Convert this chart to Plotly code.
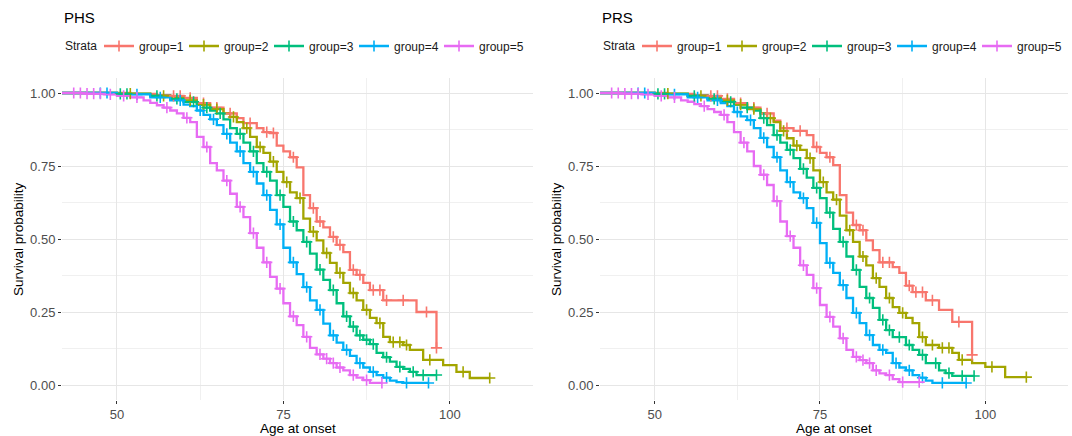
import plotly.graph_objects as go

W, H = 1072, 436
FONT = "Liberation Sans, Arial, Helvetica, sans-serif"
COLORS = ["#F8766D", "#A3A500", "#00BF7D", "#00B0F6", "#E76BF3"]
GROUP_NAMES = ["group=1", "group=2", "group=3", "group=4", "group=5"]
PANEL_TITLES = ["PHS", "PRS"]
X_TITLE = "Age at onset"
Y_TITLE = "Survival probability"
LEGEND_TITLE = "Strata"
X_TICKS = [50, 75, 100]
Y_TICKS = [0.0, 0.25, 0.5, 0.75, 1.0]
Y_TICK_LABELS = ["0.00", "0.25", "0.50", "0.75", "1.00"]

# ---------------- PHS ----------------
phs_g1_age = [40, 52, 56, 58, 60, 62, 64, 66, 68, 69, 71, 72, 73, 74, 75, 76, 77, 78, 79, 80, 81, 82, 83, 84, 85, 86, 87, 88, 90, 95, 98]
phs_g1_surv = [1.0, 0.997, 0.993, 0.99, 0.983, 0.965, 0.95, 0.93, 0.914, 0.897, 0.88, 0.866, 0.863, 0.82, 0.80, 0.78, 0.745, 0.65, 0.606, 0.56, 0.54, 0.507, 0.48, 0.455, 0.394, 0.377, 0.35, 0.325, 0.29, 0.25, 0.127]
phs_g1_cens = [58.5, 59.5, 61, 63, 65, 67, 70, 72.5, 73.5, 76.5, 79.5, 80.5, 82.5, 83.5, 85.5, 86.5, 88.5, 89.5, 90.5, 93, 96.5, 98]

phs_g2_age = [40, 50, 55, 58, 60, 62, 64, 66, 67, 68, 69, 70, 71, 72, 73, 74, 75, 76, 77, 78, 79, 80, 81, 82, 83, 84, 85, 86, 87, 88, 89, 90, 91, 93, 94, 96, 99, 101, 103]
phs_g2_surv = [1.0, 0.998, 0.99, 0.985, 0.975, 0.96, 0.945, 0.93, 0.918, 0.9, 0.88, 0.85, 0.815, 0.795, 0.765, 0.73, 0.695, 0.66, 0.64, 0.57, 0.525, 0.495, 0.452, 0.418, 0.384, 0.35, 0.315, 0.29, 0.257, 0.23, 0.212, 0.165, 0.147, 0.137, 0.12, 0.086, 0.068, 0.045, 0.024]
phs_g2_cens = [52, 57, 61, 63, 65, 67.5, 69.5, 71.5, 73.5, 75.5, 77.5, 79.5, 81.5, 83.5, 85.5, 87.5, 89.5, 91.5, 92.5, 93.5, 97, 102, 106]

phs_g3_age = [40, 50, 55, 58, 60, 62, 63, 64, 65, 66, 67, 68, 69, 70, 71, 72, 73, 74, 75, 76, 77, 78, 79, 80, 81, 82, 83, 84, 85, 86, 87, 88, 89, 90, 91, 92, 93, 94, 95]
phs_g3_surv = [1.0, 0.997, 0.99, 0.98, 0.97, 0.96, 0.95, 0.94, 0.93, 0.91, 0.88, 0.86, 0.83, 0.80, 0.76, 0.73, 0.70, 0.65, 0.61, 0.56, 0.53, 0.49, 0.45, 0.395, 0.36, 0.325, 0.28, 0.235, 0.2, 0.17, 0.155, 0.14, 0.11, 0.095, 0.08, 0.062, 0.055, 0.045, 0.034]
phs_g3_cens = [50.5, 51.5, 56, 59, 61.5, 63.5, 65.5, 68.5, 70.5, 72.5, 74.5, 76.5, 78.5, 80.5, 82.5, 84.5, 85.5, 86.5, 87.5, 88.5, 90.5, 92.5, 94.5, 96, 98]

phs_g4_age = [40, 50, 55, 58, 60, 61, 62, 63, 64, 65, 66, 67, 68, 69, 70, 71, 72, 73, 74, 75, 76, 77, 78, 79, 80, 81, 82, 83, 84, 85, 86, 87, 88, 89, 90, 91, 92, 93]
phs_g4_surv = [1.0, 0.995, 0.985, 0.975, 0.96, 0.955, 0.94, 0.925, 0.91, 0.89, 0.86, 0.83, 0.80, 0.76, 0.73, 0.69, 0.65, 0.6, 0.55, 0.47, 0.42, 0.38, 0.335, 0.29, 0.257, 0.21, 0.17, 0.145, 0.12, 0.1, 0.075, 0.06, 0.045, 0.034, 0.025, 0.015, 0.01, 0.007]
phs_g4_cens = [47.5, 48.5, 53, 56.5, 59.5, 62.5, 64.5, 66.5, 68.5, 70.5, 72.5, 74.5, 76.5, 78.5, 80.5, 82.5, 84.5, 86.5, 88.5, 90.5, 93.5, 96.8]

phs_g5_age = [40, 45, 48, 50, 52, 54, 55, 56, 57, 58, 59, 60, 61, 62, 63, 64, 65, 66, 67, 68, 69, 70, 71, 72, 73, 74, 75, 76, 77, 78, 79, 80, 81, 82, 83, 84, 85, 86, 87, 88]
phs_g5_surv = [1.0, 0.998, 0.995, 0.99, 0.985, 0.975, 0.966, 0.958, 0.95, 0.94, 0.93, 0.915, 0.9, 0.85, 0.815, 0.76, 0.735, 0.70, 0.655, 0.61, 0.575, 0.52, 0.47, 0.42, 0.37, 0.33, 0.28, 0.235, 0.205, 0.165, 0.127, 0.105, 0.09, 0.075, 0.06, 0.05, 0.034, 0.025, 0.017, 0.007]
phs_g5_cens = [43.5, 44.5, 45.5, 46.5, 47.5, 49, 51, 53, 57.5, 60.5, 63.5, 66.5, 68.5, 70.5, 72.5, 74.5, 76.5, 78.5, 80.5, 81.5, 82.5, 83.5, 85.5, 87.5, 89.8]

# ---------------- PRS ----------------
prs_g1_age = [40, 52, 56, 58, 60, 62, 64, 66, 68, 69, 71, 73, 74, 75, 76, 77, 78, 79, 80, 81, 82, 83, 84, 86, 87, 88, 89, 91, 93, 95, 98]
prs_g1_surv = [1.0, 0.997, 0.993, 0.99, 0.98, 0.965, 0.95, 0.93, 0.905, 0.88, 0.87, 0.856, 0.815, 0.795, 0.78, 0.753, 0.65, 0.59, 0.548, 0.53, 0.495, 0.462, 0.42, 0.404, 0.384, 0.34, 0.318, 0.29, 0.257, 0.216, 0.103]
prs_g1_cens = [58.5, 59.5, 61, 63, 65, 67, 70, 72, 74.5, 76.5, 80.5, 81.5, 84.5, 85.5, 88.5, 89.5, 90.5, 92, 96, 98]

prs_g2_age = [40, 50, 55, 58, 60, 62, 64, 66, 67, 68, 69, 70, 71, 72, 73, 74, 75, 76, 77, 78, 79, 80, 81, 82, 83, 84, 85, 86, 87, 88, 89, 90, 91, 93, 95, 96, 98, 100, 103]
prs_g2_surv = [1.0, 0.998, 0.99, 0.985, 0.975, 0.96, 0.945, 0.93, 0.914, 0.9, 0.87, 0.845, 0.82, 0.805, 0.777, 0.735, 0.695, 0.66, 0.635, 0.58, 0.53, 0.49, 0.44, 0.41, 0.366, 0.336, 0.298, 0.267, 0.247, 0.23, 0.212, 0.164, 0.137, 0.127, 0.11, 0.086, 0.075, 0.062, 0.027]
prs_g2_cens = [52, 57, 61, 63, 65, 67.5, 69.5, 71.5, 73.5, 75.5, 77.5, 79.5, 81.5, 83.5, 85.5, 87.5, 90.5, 92, 93.5, 94.5, 96.5, 101, 106.2]

prs_g3_age = [40, 50, 55, 58, 60, 62, 63, 65, 66, 67, 68, 69, 70, 71, 72, 73, 74, 75, 76, 77, 78, 79, 80, 81, 82, 83, 84, 85, 86, 88, 89, 90, 91, 93, 94, 95]
prs_g3_surv = [1.0, 0.997, 0.99, 0.98, 0.97, 0.96, 0.95, 0.94, 0.914, 0.89, 0.856, 0.83, 0.805, 0.777, 0.74, 0.71, 0.675, 0.64, 0.59, 0.535, 0.49, 0.44, 0.394, 0.336, 0.298, 0.264, 0.223, 0.188, 0.164, 0.137, 0.12, 0.103, 0.075, 0.05, 0.041, 0.031]
prs_g3_cens = [50.5, 51.5, 56, 59, 61.5, 64, 66.5, 68.5, 70.5, 72.5, 74.5, 76.5, 78.5, 80.5, 82.5, 84.5, 85.5, 87, 88.5, 90.5, 92.5, 94.5, 96.5, 98.3]

prs_g4_age = [40, 50, 55, 58, 60, 61, 62, 63, 64, 65, 66, 67, 68, 69, 70, 71, 72, 73, 74, 75, 76, 77, 78, 79, 80, 81, 82, 83, 84, 85, 86, 87, 88, 89, 90, 91, 92]
prs_g4_surv = [1.0, 0.995, 0.985, 0.975, 0.965, 0.955, 0.935, 0.92, 0.907, 0.88, 0.846, 0.815, 0.78, 0.735, 0.695, 0.66, 0.64, 0.606, 0.555, 0.486, 0.418, 0.384, 0.342, 0.298, 0.247, 0.212, 0.171, 0.137, 0.12, 0.11, 0.075, 0.06, 0.05, 0.034, 0.025, 0.015, 0.007]
prs_g4_cens = [47.5, 48.5, 53, 56.5, 59.5, 62.5, 64.5, 66.5, 68.5, 70.5, 72.5, 74.5, 76.5, 78.5, 80.5, 82.5, 84.5, 86.5, 88.5, 90.5, 93.5, 97.1]

prs_g5_age = [40, 45, 48, 50, 52, 54, 55, 56, 57, 58, 59, 60, 61, 62, 63, 64, 65, 66, 67, 68, 69, 70, 71, 72, 73, 74, 75, 76, 77, 78, 79, 80, 81, 82, 83, 84, 85, 86, 87]
prs_g5_surv = [1.0, 0.998, 0.995, 0.99, 0.985, 0.975, 0.97, 0.962, 0.955, 0.945, 0.935, 0.925, 0.9, 0.866, 0.83, 0.8, 0.75, 0.72, 0.685, 0.63, 0.56, 0.51, 0.47, 0.41, 0.377, 0.332, 0.274, 0.233, 0.2, 0.16, 0.12, 0.096, 0.085, 0.075, 0.05, 0.04, 0.034, 0.02, 0.01]
prs_g5_cens = [43.5, 44.5, 45.5, 46.5, 47.5, 49, 51, 53, 57.5, 60.5, 63.5, 66.5, 68.5, 70.5, 72.5, 74.5, 76.5, 78.5, 80.5, 81.5, 82.5, 83.5, 85.5, 87.5, 90]

PANELS = [
    [(phs_g1_age, phs_g1_surv, phs_g1_cens), (phs_g2_age, phs_g2_surv, phs_g2_cens),
     (phs_g3_age, phs_g3_surv, phs_g3_cens), (phs_g4_age, phs_g4_surv, phs_g4_cens),
     (phs_g5_age, phs_g5_surv, phs_g5_cens)],
    [(prs_g1_age, prs_g1_surv, prs_g1_cens), (prs_g2_age, prs_g2_surv, prs_g2_cens),
     (prs_g3_age, prs_g3_surv, prs_g3_cens), (prs_g4_age, prs_g4_surv, prs_g4_cens),
     (prs_g5_age, prs_g5_surv, prs_g5_cens)],
]


def step_value(ages, surv, t):
    v = surv[0]
    for a, s in zip(ages, surv):
        if a <= t:
            v = s
        else:
            break
    return v


# layout geometry (pixels)
PANEL_X = [(62, 533), (600, 1068)]
PANEL_TOP, PANEL_BOTTOM = 78.4, 399.6
X_RANGE = [41.74, 112.5]
Y_RANGE = [-0.05, 1.05]
LEGEND_Y = 46

fig = go.Figure()
LINE_W = 2.3
MARK_SYMBOL, MARK_SIZE, MARK_LW = "cross-thin", 8, 1.6

for p, panel in enumerate(PANELS):
    xa = "x" if p == 0 else "x2"
    ya = "y" if p == 0 else "y2"
    lg = "legend" if p == 0 else "legend2"
    for g, (ages, surv, cens) in enumerate(panel):
        end = max(ages[-1], cens[-1])
        fig.add_trace(go.Scatter(
            x=list(ages) + [end], y=list(surv) + [surv[-1]],
            mode="lines", line=dict(color=COLORS[g], width=LINE_W, shape="hv"),
            xaxis=xa, yaxis=ya, showlegend=False, hoverinfo="skip"))
    for g, (ages, surv, cens) in enumerate(panel):
        fig.add_trace(go.Scatter(
            x=cens, y=[step_value(ages, surv, c) for c in cens],
            mode="markers",
            marker=dict(color=COLORS[g], symbol=MARK_SYMBOL, size=MARK_SIZE,
                        line=dict(color=COLORS[g], width=MARK_LW)),
            xaxis=xa, yaxis=ya, showlegend=False, hoverinfo="skip"))
    for g in range(5):
        fig.add_trace(go.Scatter(
            x=[None], y=[None], mode="lines+markers", name=GROUP_NAMES[g],
            line=dict(color=COLORS[g], width=LINE_W),
            marker=dict(color=COLORS[g], symbol=MARK_SYMBOL, size=MARK_SIZE,
                        line=dict(color=COLORS[g], width=MARK_LW)),
            xaxis=xa, yaxis=ya, legend=lg, showlegend=True))

ydom = [1 - PANEL_BOTTOM / H, 1 - PANEL_TOP / H]
axis_common = dict(
    showline=False, zeroline=False, ticks="outside", ticklen=3, tickwidth=1,
    tickcolor="#333333", gridcolor="#E6E6E6", gridwidth=1,
    tickfont=dict(family=FONT, size=13, color="#4D4D4D"),
)
layout_axes = {}
for p in range(2):
    sfx = "" if p == 0 else "2"
    layout_axes["xaxis" + sfx] = dict(
        axis_common, domain=[PANEL_X[p][0] / W, PANEL_X[p][1] / W], range=X_RANGE,
        tickmode="array", tickvals=X_TICKS, anchor="y" + sfx,
        minor=dict(tickmode="linear", tick0=37.5, dtick=12.5, showgrid=True,
                   gridcolor="#F0F0F0", gridwidth=1, ticks=""))
    layout_axes["yaxis" + sfx] = dict(
        axis_common, domain=ydom, range=Y_RANGE, tickmode="array",
        tickvals=Y_TICKS, ticktext=Y_TICK_LABELS, anchor="x" + sfx,
        minor=dict(tickmode="linear", tick0=0.125, dtick=0.25, showgrid=True,
                   gridcolor="#F0F0F0", gridwidth=1, ticks=""))

legend_common = dict(
    orientation="h", yanchor="middle", xanchor="left", y=1 - LEGEND_Y / H,
    font=dict(family=FONT, size=12, color="#1A1A1A"),
    bgcolor="rgba(0,0,0,0)", borderwidth=0,
    entrywidth=40, entrywidthmode="pixels", itemclick=False, itemdoubleclick=False,
)

annotations = []
for p in range(2):
    x0, x1 = PANEL_X[p]
    annotations.append(dict(text=PANEL_TITLES[p], x=x0 / W, y=1 - 18 / H, xref="paper", yref="paper",
                            xanchor="left", yanchor="middle", showarrow=False,
                            font=dict(family=FONT, size=15, color="#000000")))
    annotations.append(dict(text=LEGEND_TITLE, x=(x0 + 1) / W, y=1 - LEGEND_Y / H, xref="paper", yref="paper",
                            xanchor="left", yanchor="middle", showarrow=False,
                            font=dict(family=FONT, size=12, color="#1A1A1A")))
    annotations.append(dict(text=X_TITLE, x=(x0 + x1) / 2 / W, y=1 - 428.5 / H, xref="paper", yref="paper",
                            xanchor="center", yanchor="middle", showarrow=False,
                            font=dict(family=FONT, size=13.5, color="#000000")))
    annotations.append(dict(text=Y_TITLE, x=(x0 - 44) / W, y=1 - (PANEL_TOP + PANEL_BOTTOM) / 2 / H,
                            xref="paper", yref="paper", textangle=-90,
                            xanchor="center", yanchor="middle", showarrow=False,
                            font=dict(family=FONT, size=13.5, color="#000000")))

fig.update_layout(
    width=W, height=H, margin=dict(l=0, r=0, t=0, b=0, autoexpand=False),
    paper_bgcolor="white", plot_bgcolor="white",
    font=dict(family=FONT, color="#000000"),
    legend=dict(legend_common, x=(PANEL_X[0][0] + 37) / W),
    legend2=dict(legend_common, x=(PANEL_X[1][0] + 37) / W),
    annotations=annotations,
    hovermode=False,
    **layout_axes,
)

fig.write_html(
    "out.html",
    config={"displayModeBar": False, "staticPlot": True},
    post_script="document.body.style.margin='0px';document.body.style.overflow='hidden';",
)
